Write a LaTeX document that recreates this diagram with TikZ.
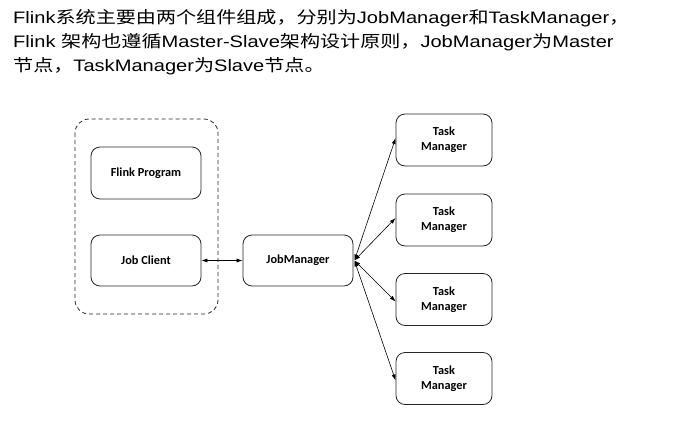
\documentclass[tikz,border=0pt]{standalone}
\usepackage{fontspec}
\setmainfont{Liberation Sans}[FakeStretch=1.21]
\newfontfamily\cjk{Noto Sans CJK SC}[FakeStretch=1.21]
\newfontfamily\boxfont{Carlito}
\newcommand{\zh}[1]{{\cjk #1}}
\usetikzlibrary{arrows.meta}
\begin{document}
\begin{tikzpicture}[x=1pt,y=-1pt,
  headline/.style={anchor=base west, inner sep=0pt, font=\fontsize{16.6}{18}\selectfont},
  card/.style={draw=black!85, line width=0.8pt, rounded corners=9pt},
  cardtext/.style={font=\boxfont\bfseries\fontsize{12.3}{16}\selectfont, align=center, inner sep=0pt},
  link/.style={{Latex[length=6pt,width=4pt]}-{Latex[length=6pt,width=4pt]}, line width=0.6pt, black}
]
\useasboundingbox (0,0) rectangle (681,426);
% header text
\node[headline] (l1) at (13,23) {Flink\zh{系统主要由两个组件组成，分别为}JobManager\zh{和}TaskManager\zh{，}};
\node[headline] (l2) at (13,47) {Flink \zh{架构也遵循}Master-Slave\zh{架构设计原则，}JobManager\zh{为}Master};
\node[headline] (l3) at (13,71) {\zh{节点，}TaskManager\zh{为}Slave\zh{节点。}};
% dashed client group
\draw[draw=black!85, line width=0.8pt, dashed, dash pattern=on 4pt off 3pt, rounded corners=14pt] (75,119) rectangle (218,314);
% boxes
\node[card, minimum width=110pt, minimum height=52pt] (fp) at (146,173) {};
\node[cardtext] at (fp) {Flink Program};
\node[card, minimum width=110pt, minimum height=51pt] (jc) at (146,260.5) {};
\node[cardtext] at (jc) {Job Client};
\node[card, minimum width=110pt, minimum height=51pt] (jm) at (298,260.5) {};
\node[cardtext] at (jm) {JobManager};
\foreach \i/\yc in {1/140, 2/220, 3/299.5, 4/378.5}{
  \node[card, minimum width=96pt, minimum height=52pt] (t\i) at (444,\yc) {};
  \node[cardtext] at (t\i) {Task\\[-1pt]Manager};
}
% connectors
\draw[link] (jc.east) -- (jm.west);
\coordinate (jmr) at ([xshift=1pt]jm.east);
\draw[link] (jmr) -- ([yshift=2pt]t1.west);
\draw[link] (jmr) -- ([yshift=2pt]t2.west);
\draw[link] (jmr) -- ([yshift=-2pt]t3.west);
\draw[link] (jmr) -- ([yshift=-2pt]t4.west);
\end{tikzpicture}
\end{document}
